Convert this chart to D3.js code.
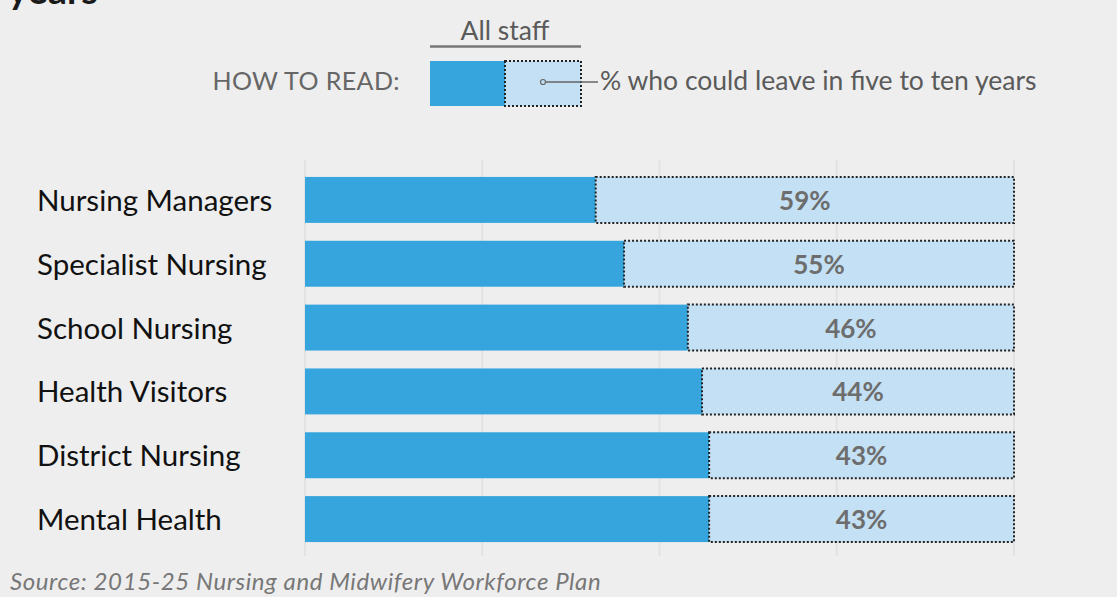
<!DOCTYPE html>
<html>
<head>
<meta charset="utf-8">
<script src="https://cdn.jsdelivr.net/npm/d3@7"></script>
<style>
  html, body { margin: 0; padding: 0; background: #eeeeee; }
  svg { display: block; }
  text { font-family: Lato, "Open Sans", sans-serif; }
</style>
</head>
<body>
<svg id="chart" width="1117" height="597"></svg>
<script>
// Staff groups and the share who could leave in five to ten years
const categories = ["Nursing Managers", "Specialist Nursing", "School Nursing", "Health Visitors", "District Nursing", "Mental Health"];
const leaveShare = [59, 55, 46, 44, 43, 43];
const gridTicks = [0, 25, 50, 75, 100];

const svg = d3.select("#chart");
const W = 1117, H = 597;
svg.append("rect").attr("width", W).attr("height", H).attr("fill", "#eeeeee");

const x = d3.scaleLinear().domain([0, 100]).range([305, 1014]);
const y = d3.scaleBand().domain(categories).range([168, 551]).paddingInner(0.28).paddingOuter(0.14);

const darkBlue = "#36a5dd", lightBlue = "#c3e0f4";

// Title fragment running off the top edge
svg.append("text").attr("x", 8).attr("y", 4)
  .attr("font-size", 38).attr("font-weight", 700).attr("fill", "#1a1a1a").text("years");

// Vertical grid lines
svg.append("g").selectAll("line").data(gridTicks).join("line")
  .attr("x1", d => x(d)).attr("x2", d => x(d))
  .attr("y1", 160).attr("y2", 556)
  .attr("stroke", "#e2e2e2").attr("stroke-width", 2);

const rows = svg.append("g").selectAll("g").data(categories).join("g");

// Staying share (dark) then leaving share (light, dotted outline)
rows.append("rect")
  .attr("x", x(0)).attr("y", d => y(d))
  .attr("width", (d, i) => x(100 - leaveShare[i]) - x(0))
  .attr("height", y.bandwidth()).attr("fill", darkBlue);

rows.append("rect")
  .attr("x", (d, i) => x(100 - leaveShare[i])).attr("y", d => y(d))
  .attr("width", (d, i) => x(100) - x(100 - leaveShare[i]))
  .attr("height", y.bandwidth()).attr("fill", lightBlue)
  .attr("stroke", "#222").attr("stroke-width", 2).attr("stroke-dasharray", "2,2");

rows.append("text")
  .attr("x", (d, i) => (x(100 - leaveShare[i]) + x(100)) / 2)
  .attr("y", d => y(d) + y.bandwidth() / 2 + 10)
  .attr("text-anchor", "middle").attr("font-size", 26).attr("font-weight", 700)
  .attr("fill", "#6d6d6d")
  .text((d, i) => leaveShare[i] + "%");

rows.append("text")
  .attr("x", 37).attr("y", d => y(d) + y.bandwidth() / 2 + 11)
  .attr("font-size", 29.5).attr("fill", "#111")
  .text(d => d);

// How-to-read key
const key = svg.append("g");
key.append("text").attr("x", 505).attr("y", 40).attr("text-anchor", "middle")
  .attr("font-size", 26.5).attr("fill", "#5a5a5a").text("All staff");
key.append("line").attr("x1", 430).attr("x2", 581).attr("y1", 46.5).attr("y2", 46.5)
  .attr("stroke", "#777").attr("stroke-width", 2.5);
key.append("text").attr("x", 400).attr("y", 90).attr("text-anchor", "end")
  .attr("font-size", 25).attr("letter-spacing", 0.4).attr("fill", "#666").text("HOW TO READ:");
key.append("rect").attr("x", 430).attr("y", 61).attr("width", 75).attr("height", 45).attr("fill", darkBlue);
key.append("rect").attr("x", 505).attr("y", 61).attr("width", 76).attr("height", 45)
  .attr("fill", lightBlue).attr("stroke", "#222").attr("stroke-width", 2).attr("stroke-dasharray", "2,2");
key.append("line").attr("x1", 545).attr("x2", 598).attr("y1", 82).attr("y2", 82)
  .attr("stroke", "#666").attr("stroke-width", 1.5);
key.append("circle").attr("cx", 543).attr("cy", 82).attr("r", 2.5)
  .attr("fill", lightBlue).attr("stroke", "#666").attr("stroke-width", 1.2);
key.append("text").attr("x", 600).attr("y", 90)
  .attr("font-size", 26.5).attr("fill", "#5a5a5a").text("% who could leave in five to ten years");

// Source note
svg.append("text").attr("x", 10).attr("y", 590)
  .attr("font-size", 24).attr("letter-spacing", 0.6).attr("font-style", "italic").attr("fill", "#777")
  .text("Source: 2015-25 Nursing and Midwifery Workforce Plan");
</script>
</body>
</html>
